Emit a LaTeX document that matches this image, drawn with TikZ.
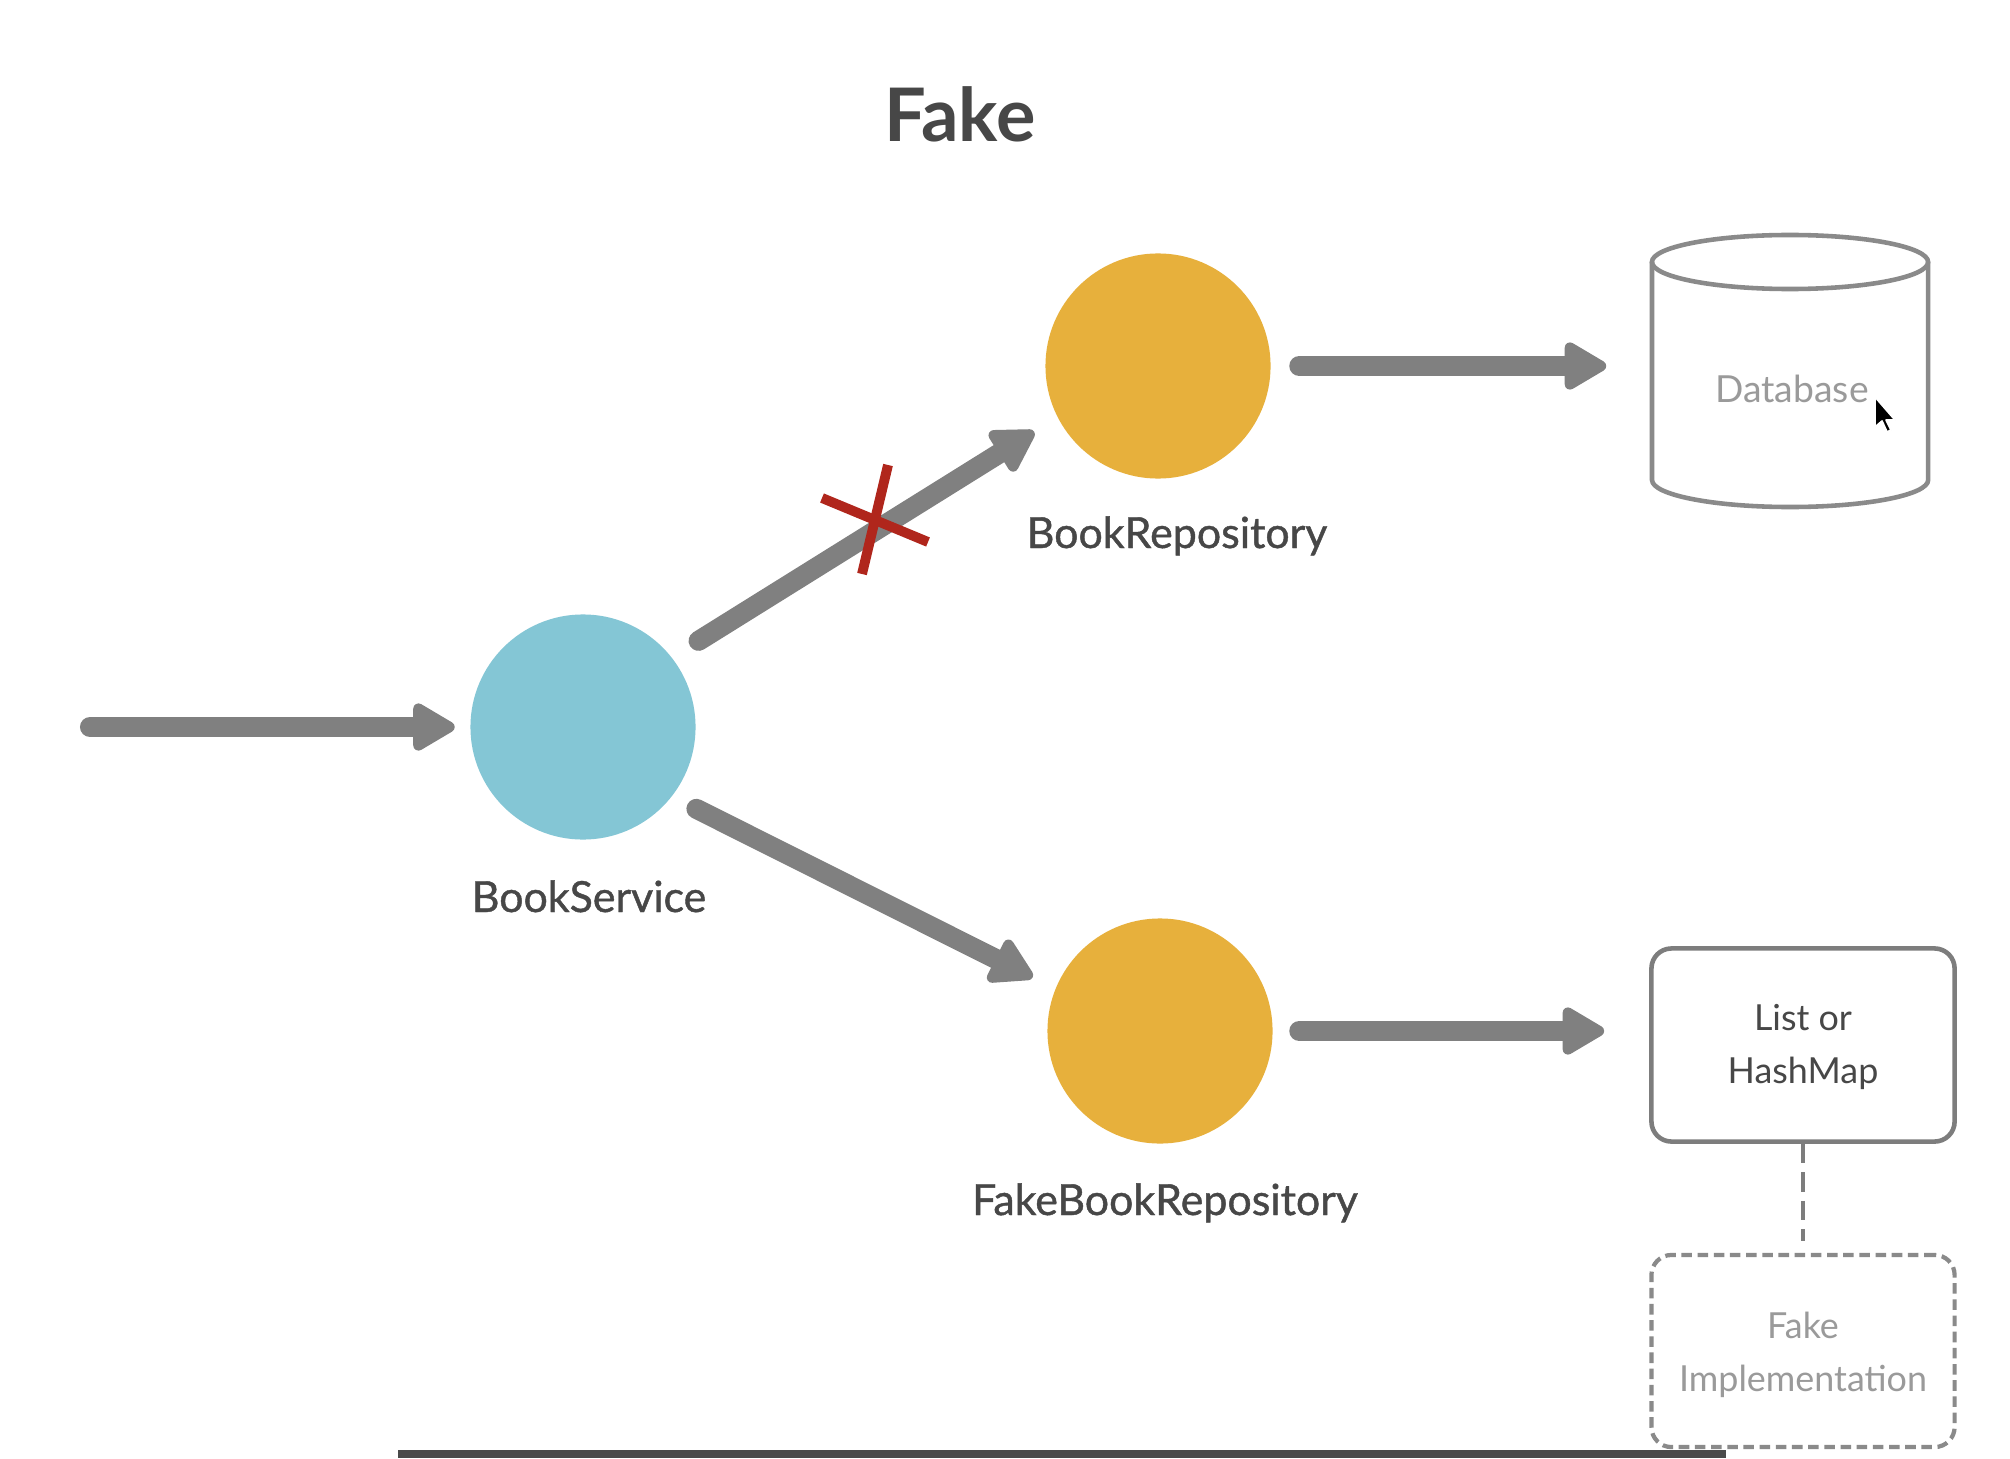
\documentclass[tikz,border=0pt]{standalone}
\usepackage{fontspec}
\setmainfont{Lato}
\newfontfamily\labelfont{Lato}[FakeBold=1]
\usetikzlibrary{arrows.meta}
\definecolor{arrowgray}{HTML}{808080}
\definecolor{svcteal}{HTML}{84C6D5}
\definecolor{repogold}{HTML}{E7B03C}
\definecolor{xred}{HTML}{B0261C}
\definecolor{darktext}{HTML}{474747}
\definecolor{lighttext}{HTML}{9A9A9A}
\definecolor{boxline}{HTML}{7D7D7D}
\definecolor{dboutline}{HTML}{8A8A8A}
\definecolor{barcol}{HTML}{4A4A4A}
\begin{document}
\begin{tikzpicture}[x=0.01cm,y=-0.01cm,
  bigarrow/.style={draw=arrowgray, line width=5.7pt, line cap=round,
    -{Triangle[round,length=13.4pt,width=14.8pt,line width=3pt]}},
  circ/.style={circle, minimum size=2.25cm, inner sep=0pt},
  lbl/.style={text=darktext, font=\labelfont\fontsize{12.2}{14}\selectfont, inner sep=0pt},
  boxtext/.style={font=\fontsize{10.2}{15}\selectfont, align=center, inner sep=0pt},
  solidbox/.style={draw=boxline, line width=1.3pt, rounded corners=0.2cm,
    minimum width=3.03cm, minimum height=1.93cm},
  dashbox/.style={draw=dboutline, line width=1.2pt, rounded corners=0.2cm,
    dash pattern=on 3pt off 1.6pt,
    minimum width=3.03cm, minimum height=1.92cm},
  dbline/.style={draw=dboutline, line width=1.3pt},
  xstroke/.style={draw=xred, line width=2.8pt},
  dashlink/.style={draw=boxline, line width=1.4pt, dash pattern=on 5.5pt off 2.6pt}
]
\useasboundingbox (0,0) rectangle (2010,1458);
\fill[white] (0,0) rectangle (2010,1458);

% title
\node[text=darktext, font=\fontsize{21}{25}\selectfont\bfseries, anchor=base, inner sep=0pt] (title) at (960,142) {Fake};

% circles
\node[circ, fill=svcteal] (svc) at (583,727) {};
\node[circ, fill=repogold] (repo) at (1158,366) {};
\node[circ, fill=repogold] (fake) at (1160,1031) {};

% labels
\node[lbl, anchor=base] (svclbl) at (589,912) {BookService};
\node[lbl, anchor=base] (repolbl) at (1177,548) {BookRepository};
\node[lbl, anchor=base] (fakelbl) at (1165,1215) {FakeBookRepository};

% database cylinder
\node[minimum width=2.76cm, minimum height=2.72cm, inner sep=0pt] (db) at (1790,371) {};
\draw[dbline] (1652,262) -- (1652,480)
  arc[start angle=180, end angle=360, x radius=1.38cm, y radius=0.27cm]
  -- (1928,262);
\draw[dbline] (1790,262) ellipse [x radius=1.38cm, y radius=0.27cm];
\node[text=lighttext, font=\fontsize{10.6}{13}\selectfont, anchor=base, inner sep=0pt] (dbtext) at (1792,402) {Database};

% mouse cursor
\filldraw[fill=black, draw=white, line width=0.5pt, line join=round]
  (1875,397) -- ++(0,30) -- ++(7,-6) -- ++(5,11) -- ++(4,-2) -- ++(-5,-10) -- ++(9,0) -- cycle;

% list / fake implementation boxes
\node[solidbox] (list) at (1803,1045) {};
\node[boxtext, text=darktext] (listtext) at (1803,1047) {List or\\HashMap};
\node[dashbox] (impl) at (1803,1351) {};
\node[boxtext, text=lighttext] (impltext) at (1803,1355) {Fake\\Implementation};
\draw[dashlink] (list.south) -- ([yshift=0.12cm]impl.north);

% connectors
\coordinate (in) at (90,727);
\draw[bigarrow, shorten >=0.15cm] (in) -- (svc.west);
\draw[bigarrow, shorten <=0.31cm, shorten >=0.27cm] (svc.38) -- (repo.207.5);
\draw[bigarrow, shorten <=0.27cm, shorten >=0.25cm] (svc.-38) -- (fake.158);
\draw[bigarrow, shorten <=0.28cm, shorten >=0.45cm] (repo.east) -- (repo.east -| db.west);
\draw[bigarrow, shorten <=0.26cm, shorten >=0.45cm] (fake.east) -- (fake.east -| list.west);

% red cross on the upper connector
\coordinate (xmark) at (875,520);
\draw[xstroke] ([shift={(-53,-22)}]xmark) -- ([shift={(53,22)}]xmark);
\draw[xstroke] ([shift={(13,-55)}]xmark) -- ([shift={(-13,54)}]xmark);

% bottom bar
\fill[barcol] (398,1450) rectangle (1726,1458);
\end{tikzpicture}
\end{document}
